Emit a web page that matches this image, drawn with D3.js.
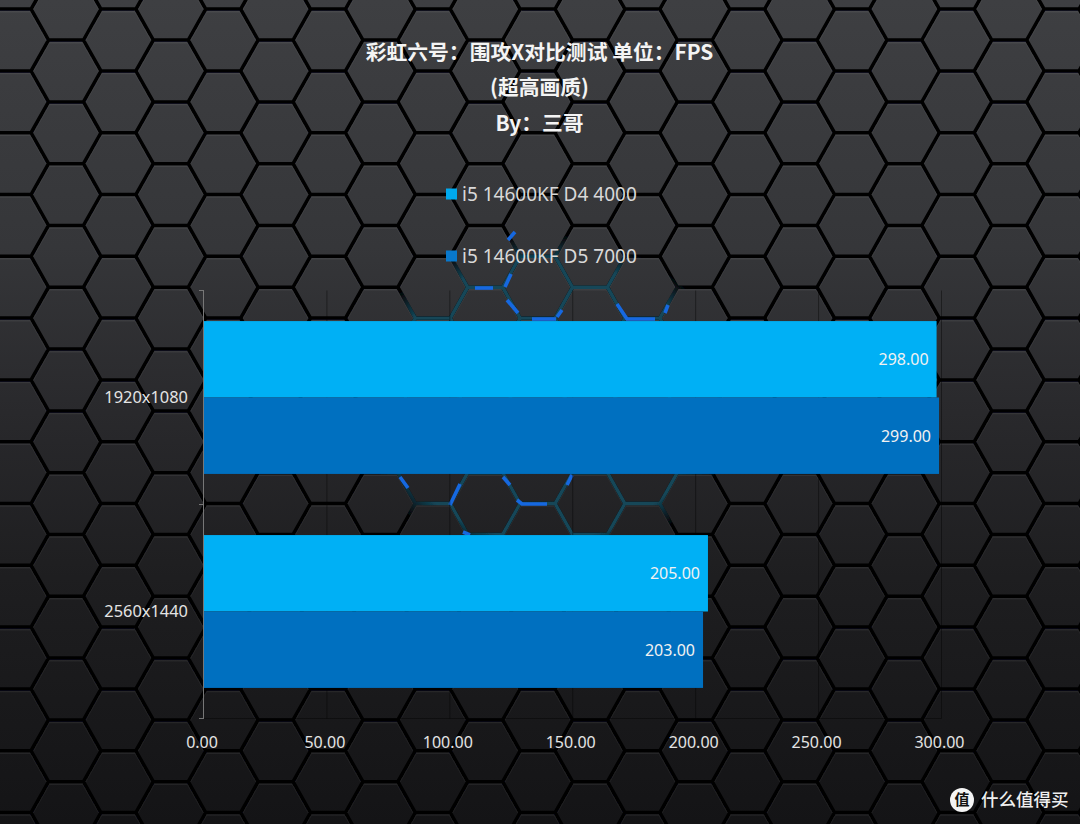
<!DOCTYPE html>
<html><head><meta charset="utf-8">
<script src="https://cdn.jsdelivr.net/npm/d3@7"></script>
<style>html,body{margin:0;padding:0;background:#222}svg{display:block}</style>
</head><body><svg id="c" width="1080" height="824"></svg>
<script>
const categories = ["1920x1080", "2560x1440"];
const seriesNames = ["i5 14600KF D4 4000", "i5 14600KF D5 7000"];
const d4Values = [298, 205];
const d5Values = [299, 203];
const seriesValues = [d4Values, d5Values];
const seriesColors = ["#00b0f5", "#0070c0"];
const legendColors = ["#00a9ee", "#0878cc"];
const xTicks = [0, 50, 100, 150, 200, 250, 300];
const titleLines = ["彩虹六号：围攻X对比测试 单位：FPS", "(超高画质)", "By：三哥"];

const svg = d3.select("#c");
const W = 1080, H = 824;
const plot = {l: 204, r: 941.5, t: 290.5, b: 718.5};
const defs = svg.append("defs");

// ---------- background ----------
const bg = defs.append("linearGradient").attr("id", "bg").attr("x1", 0).attr("y1", 0).attr("x2", 0).attr("y2", 1);
[[0, "#3e3f42"], [0.3, "#353639"], [0.5, "#29292c"], [0.7, "#1e1e20"], [1, "#141416"]]
  .forEach(([o, c]) => bg.append("stop").attr("offset", o).attr("stop-color", c));
svg.append("rect").attr("width", W).attr("height", H).attr("fill", "url(#bg)");
defs.append("filter").attr("id", "soft").attr("x", "-5%").attr("y", "-5%").attr("width", "110%").attr("height", "110%")
  .attr("filterUnits", "objectBoundingBox")
  .append("feGaussianBlur").attr("stdDeviation", 0.6);

const colStep = 52.4, rowStep = 61.8, R = 34.9;
let mesh = "";
for (let k = -2; k < 24; k++) {
  const cx = 66 + colStep * k;
  const off = (k % 2 === 0) ? 71 : 40;
  for (let n = -2; n < 16; n++) {
    const cy = off + rowStep * n;
    const h = rowStep / 2;
    mesh += `M${cx - R},${cy}L${cx - R / 2},${cy - h}L${cx + R / 2},${cy - h}L${cx + R},${cy}L${cx + R / 2},${cy + h}L${cx - R / 2},${cy + h}Z`;
  }
}
const glow = defs.append("radialGradient").attr("id", "teal").attr("gradientUnits", "userSpaceOnUse")
  .attr("cx", 545).attr("cy", 400).attr("r", 1).attr("gradientTransform", "translate(545 400) scale(190 165) translate(-545 -400)");
[[0, "#14485c", 1], [0.85, "#134658", 1], [1, "#134658", 0]]
  .forEach(([o, c, a]) => glow.append("stop").attr("offset", o).attr("stop-color", c).attr("stop-opacity", a));

const bgLayer = svg.append("g").attr("filter", "url(#soft)");
bgLayer.append("path").attr("d", mesh).attr("fill", "none").attr("stroke", "#fff").attr("stroke-opacity", 0.06)
  .attr("stroke-width", 3.6).attr("transform", "translate(0,1.5)");
bgLayer.append("path").attr("d", mesh).attr("fill", "none").attr("stroke", "#050506").attr("stroke-width", 3.5);
bgLayer.append("path").attr("d", mesh).attr("fill", "none").attr("stroke", "url(#teal)").attr("stroke-width", 3.4);

const glowStrokes = [
  "M475,288L493,288", "M505,287L511,274", "M508,240L515,232", "M507,300L518,313",
  "M557,317L562,310", "M532,319L556,319", "M617,304L627,319L655,319", "M665,313L668,305",
  "M400,477L408,488", "M450,505L460,484", "M503,477L510,485", "M517,500L522,504L547,504",
  "M567,485L572,475", "M463,532L470,535"
];
bgLayer.append("g").selectAll("path").data(glowStrokes).join("path").attr("d", d => d)
  .attr("fill", "none").attr("stroke", "#1668e0").attr("stroke-width", 3.6);

// ---------- scales ----------
const x = d3.scaleLinear().domain([0, 300]).range([plot.l, plot.r]);
const y0 = d3.scaleBand().domain(categories).range([plot.t, plot.b]).paddingInner(0.2857).paddingOuter(0.1429);
const y1 = d3.scaleBand().domain(d3.range(seriesNames.length)).range([0, y0.bandwidth()]);

const FONT = "'Noto Sans','Open Sans',sans-serif";
const CJK = "'Noto Sans CJK SC','Noto Sans',sans-serif";

// ---------- grid ----------
svg.append("g").selectAll("line").data(xTicks.slice(1)).join("line")
  .attr("x1", d => x(d)).attr("x2", d => x(d)).attr("y1", plot.t).attr("y2", plot.b)
  .attr("stroke", "#000").attr("stroke-opacity", 0.4);
svg.append("line").attr("x1", plot.l).attr("x2", plot.r).attr("y1", plot.b).attr("y2", plot.b)
  .attr("stroke", "#000").attr("stroke-opacity", 0.4);

// ---------- axes ----------
const xAxis = d3.axisBottom(x).tickValues(xTicks).tickFormat(d3.format(".2f")).tickSize(0).tickPadding(18);
const gx = svg.append("g").attr("transform", `translate(-2.5,${plot.b})`).call(xAxis);
gx.select(".domain").remove();
gx.selectAll("text").attr("fill", "#e4e4e4").style("font", `16px ${FONT}`);

const yAxis = d3.axisLeft(y0).tickSize(0).tickPadding(16);
const gy = svg.append("g").attr("transform", `translate(${plot.l},0.5)`).call(yAxis);
gy.select(".domain").remove();
gy.selectAll("text").attr("fill", "#e4e4e4").style("font", `16.4px ${FONT}`);

const axisLine = svg.append("g").attr("stroke", "#777").attr("stroke-width", 1);
axisLine.append("line").attr("x1", plot.l - 0.5).attr("x2", plot.l - 0.5).attr("y1", plot.t).attr("y2", plot.b);
axisLine.selectAll("line.t").data(d3.range(categories.length + 1)).join("line").attr("class", "t")
  .attr("x1", plot.l - 5).attr("x2", plot.l)
  .attr("y1", i => plot.t + i * y0.step()).attr("y2", i => plot.t + i * y0.step());

// ---------- bars ----------
const groups = svg.append("g").selectAll("g").data(categories).join("g")
  .attr("transform", d => `translate(0,${y0(d)})`);
groups.each(function (cat, ci) {
  const g = d3.select(this);
  seriesValues.forEach((vals, si) => {
    g.append("rect").attr("x", x(0)).attr("y", y1(si)).attr("height", y1.bandwidth())
      .attr("width", x(vals[ci]) - x(0)).attr("fill", seriesColors[si]);
    g.append("text").attr("x", x(vals[ci]) - 8).attr("y", y1(si) + y1.bandwidth() / 2 + 0.5)
      .attr("dy", "0.35em").attr("text-anchor", "end").attr("fill", "#f2f2f2")
      .style("font", `16px ${FONT}`).text(d3.format(".2f")(vals[ci]));
  });
});

// ---------- title ----------
const titleY = [59.5, 94.5, 130.5];
svg.append("g").selectAll("text").data(titleLines).join("text")
  .attr("x", 539.5).attr("y", (d, i) => titleY[i]).attr("text-anchor", "middle")
  .attr("fill", "#f4f4f4").style("font", `bold 20.8px ${CJK}`).text(d => d);

// ---------- legend ----------
const legendY = [194.5, 256.5];
const lg = svg.append("g").selectAll("g").data(seriesNames).join("g")
  .attr("transform", (d, i) => `translate(446,${legendY[i]})`);
lg.append("rect").attr("x", 0).attr("y", -6).attr("width", 11).attr("height", 11).attr("fill", (d, i) => legendColors[i]);
lg.append("text").attr("x", 16).attr("y", 0).attr("dy", "0.35em").attr("fill", "#d9d9d9")
  .style("font", `19px ${FONT}`).text(d => d);

// ---------- watermark ----------
const wm = svg.append("g");
wm.append("circle").attr("cx", 962).attr("cy", 800).attr("r", 12).attr("fill", "#f4f4f4");
wm.append("text").attr("x", 962).attr("y", 800).attr("dy", "0.36em").attr("text-anchor", "middle")
  .attr("fill", "#111").style("font", `bold 15px ${CJK}`).text("值");
wm.append("text").attr("x", 981).attr("y", 800).attr("dy", "0.36em").attr("fill", "#eeeeee")
  .style("font", `500 17.5px ${CJK}`).text("什么值得买");
</script></body></html>
